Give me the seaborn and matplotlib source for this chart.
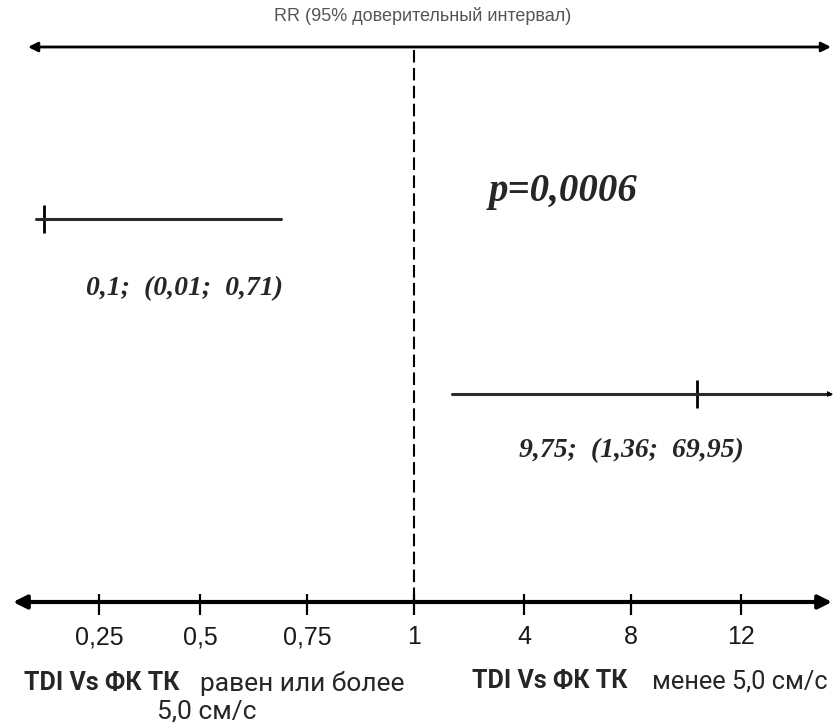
import numpy as np
import pandas as pd
import matplotlib
matplotlib.use("Agg")
import matplotlib.pyplot as plt
import seaborn as sns

# ---------------- data ----------------
tick_values = [0.25, 0.5, 0.75, 1, 4, 8, 12]
tick_labels = ["0,25", "0,5", "0,75", "1", "4", "8", "12"]
rows = ["ge5", "lt5"]
# positions of the marks as drawn in the picture (value units)
rr_point = [0.115, 10.4]
ci_low = [0.096, 2.04]
ci_high = [0.69, 69.95]
value_labels = ["0,1;  (0,01;  0,71)", "9,75;  (1,36;  69,95)"]
p_label = "p=0,0006"
title = "RR (95% доверительный интервал)"
group_bold = ["TDI Vs ФК ТК", "TDI Vs ФК ТК"]
group_text = ["равен или более", "менее 5,0 см/с"]
group_text2 = ["5,0 см/с", ""]

sns.set_theme(style="white")
plt.rcParams["font.family"] = ["Liberation Sans", "DejaVu Sans"]

W, H = 834, 728
fig = plt.figure(figsize=(W / 100, H / 100), dpi=100)
ax = fig.add_axes([0, 0, 1, 1])

# piecewise axis: value -> pixel column of the hand drawn scale
anchor_v = np.array([0, 0.25, 0.5, 0.75, 1, 4, 8, 12, 16, 100])
anchor_p = np.array([-3, 99, 200, 307, 414, 524, 631, 741, 851, 3200])

def fwd(v):
    return np.interp(v, anchor_v, anchor_p)

def inv(p):
    return np.interp(p, anchor_p, anchor_v)

ax.set_xscale("function", functions=(fwd, inv))
ax.set_xlim(inv(0), inv(W))
ax.set_ylim(H, 0)
ax.axis("off")

row_y = [219, 394]
xmax_v = inv(830)

df = pd.DataFrame({"row": rows, "est": rr_point, "lo": ci_low,
                   "hi": np.minimum(ci_high, xmax_v), "y": row_y})

# CI lines
for _, r in df.iterrows():
    seg = pd.DataFrame({"x": [r["lo"], r["hi"]], "y": [r["y"], r["y"]]})
    sns.lineplot(data=seg, x="x", y="y", ax=ax, color="#2a2a2a", lw=2.2,
                 estimator=None, sort=False, legend=False)
# arrowhead for off-scale upper bound
for r, hi in zip(df.itertuples(), ci_high):
    if hi > xmax_v:
        ax.plot([r.hi], [r.y], marker=">", color="black", ms=5, mew=0)

# point estimates as vertical ticks
sns.scatterplot(data=df, x="est", y="y", marker="|", s=420, color="black",
                linewidth=2, ax=ax, legend=False)

# vertical dashed line at RR = 1
ax.plot([1, 1], [50, 600], color="black", lw=1.5, ls=(0, (6, 2.6)))

# top double arrow
ax.annotate("", xy=(inv(28), 47), xytext=(inv(831), 47),
            arrowprops=dict(arrowstyle="<|-|>", color="black", lw=2,
                            mutation_scale=14, shrinkA=0, shrinkB=0))
ax.text(inv(423), 16, title, ha="center", va="center", fontsize=13,
        color="#555555")

# bottom axis
ax.annotate("", xy=(inv(13), 602), xytext=(inv(832), 602),
            arrowprops=dict(arrowstyle="<|-|>", color="black", lw=3,
                            mutation_scale=20, shrinkA=0, shrinkB=0))
ax.vlines(tick_values, 594, 615, color="black", lw=1.6)
for v, lab in zip(tick_values, tick_labels):
    ax.text(v, 637, lab, ha="center", va="center", fontsize=18,
            color="#1a1a1a")

# annotations
ax.text(inv(563), 191, p_label, ha="center", va="center", fontsize=28,
        fontweight="bold", fontstyle="italic", family="Liberation Serif")
ax.text(inv(185), 289, value_labels[0], ha="center", va="center",
        fontsize=20, fontweight="bold", fontstyle="italic",
        family="Liberation Serif")
ax.text(inv(631), 451, value_labels[1], ha="center", va="center",
        fontsize=20, fontweight="bold", fontstyle="italic",
        family="Liberation Serif")

# group labels
gf = ["Roboto", "DejaVu Sans"]
ax.text(inv(24), 683, group_bold[0], ha="left", va="center", fontsize=18,
        fontweight="bold", family=gf)
ax.text(inv(200), 683, group_text[0], ha="left", va="center", fontsize=19,
        family=gf)
ax.text(inv(207), 711, group_text2[0], ha="center", va="center", fontsize=19,
        family=gf)
ax.text(inv(472), 681, group_bold[1], ha="left", va="center", fontsize=18,
        fontweight="bold", family=gf)
ax.text(inv(652), 681, group_text[1], ha="left", va="center", fontsize=18.3,
        family=gf)

fig.savefig("out.png", dpi=100)
